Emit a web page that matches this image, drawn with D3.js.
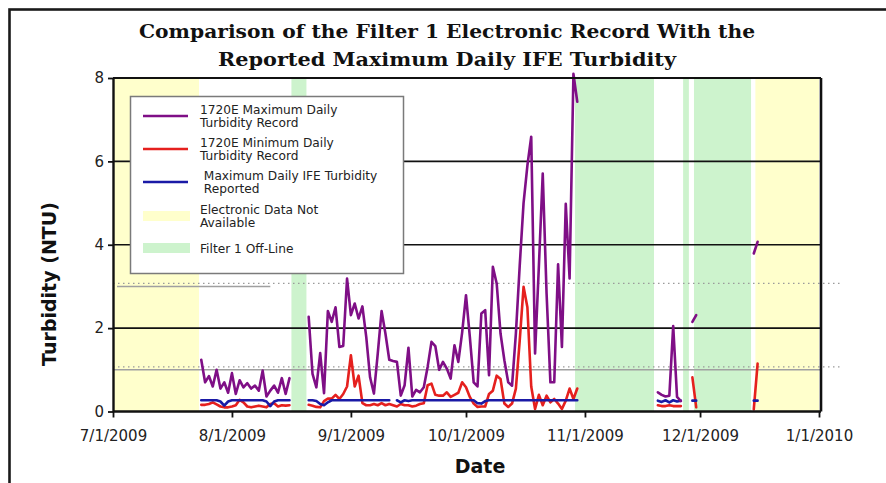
<!DOCTYPE html>
<html><head><meta charset="utf-8">
<script src="https://cdn.jsdelivr.net/npm/d3@7"></script>
<style>body{margin:0;background:#fff;} svg{display:block;}</style>
</head><body>
<svg id="chart" width="886" height="483"></svg>
<script>
// ---------------- DATA ----------------
const titleLines = ["Comparison of the Filter 1 Electronic Record With the",
                    "Reported Maximum Daily IFE Turbidity"];
const yLabel = "Turbidity (NTU)";
const xLabel = "Date";
const yTicks = [0, 2, 4, 6, 8];
const xTickDates = ["2009-07-01","2009-08-01","2009-09-01","2009-10-01","2009-11-01","2009-12-01","2010-01-01"];

// start dates of each block of daily records
const segmentStarts = ["2009-07-24", "2009-08-21", "2009-11-20", "2009-11-29", "2009-12-15"];

// 1720E Maximum Daily Turbidity Record (NTU)
const maxJul = [1.24,0.70,0.85,0.60,1.00,0.55,0.70,0.45,0.92,0.42,0.75,0.58,0.68,0.55,0.62,0.50,0.98,0.36,0.50,0.62,0.45,0.80,0.42,0.80];
const maxAugOct = [2.27,0.90,0.58,1.40,0.44,2.41,2.15,2.50,1.55,1.57,3.19,2.31,2.59,2.23,2.52,1.79,0.82,0.43,1.39,2.41,
  1.87,1.24,1.21,1.19,0.38,0.63,1.53,0.36,0.52,0.46,0.58,1.07,1.67,1.57,1.00,1.19,1.03,0.79,1.59,1.19,
  1.90,2.79,1.79,0.70,0.60,2.35,2.43,0.87,3.47,3.07,1.87,1.23,0.70,0.62,1.87,3.50,5.00,5.90,6.59,1.39,
  3.50,5.71,2.83,0.70,0.70,3.53,1.55,4.98,3.19,8.10,7.43];
const maxNov = [0.46,0.40,0.36,0.38,2.05,0.35,0.25];
const maxLateNov = [2.15,2.31];
const maxDec = [3.79,4.07];

// 1720E Minimum Daily Turbidity Record (NTU)
const minJul = [0.16,0.16,0.18,0.22,0.17,0.12,0.10,0.10,0.12,0.15,0.28,0.22,0.12,0.10,0.12,0.14,0.12,0.10,0.18,0.20,0.12,0.15,0.14,0.15];
const minAugOct = [0.16,0.14,0.11,0.10,0.25,0.31,0.31,0.40,0.30,0.42,0.60,1.35,0.60,0.86,0.20,0.15,0.15,0.18,0.15,0.20,
  0.15,0.18,0.15,0.12,0.18,0.15,0.15,0.12,0.14,0.18,0.20,0.63,0.67,0.40,0.38,0.38,0.46,0.35,0.40,0.45,
  0.70,0.58,0.35,0.19,0.11,0.12,0.12,0.42,0.50,0.86,0.78,0.19,0.11,0.19,0.55,1.70,2.99,2.50,0.60,0.06,
  0.40,0.15,0.38,0.22,0.30,0.19,0.06,0.26,0.55,0.30,0.55];
const minNov = [0.15,0.13,0.13,0.15,0.13,0.13,0.13];
const minLateNov = [0.82,0.10];
const minDec = [0.05,1.15];

// Maximum Daily IFE Turbidity Reported (NTU)  (null = no report)
const repJul = [0.27,0.27,0.27,0.27,0.27,0.24,0.14,0.24,0.27,0.27,0.27,0.27,0.27,0.27,0.27,0.27,0.27,0.24,0.13,0.24,0.27,0.27,0.27,0.27];
const repAugOct = [0.27,0.27,0.25,0.18,0.15,0.22,0.27,0.27,0.27,0.27,0.27,0.27,0.27,0.27,0.27,0.27,0.27,0.27,0.27,0.27,
  0.27,0.27,null,0.27,0.22,0.27,0.25,0.27,0.27,0.27,0.27,0.27,0.27,0.27,0.27,0.27,0.27,0.27,0.27,0.27,
  0.27,0.27,0.27,0.27,0.20,0.19,0.25,0.27,0.27,0.27,0.27,0.27,0.27,0.27,0.27,0.27,0.27,0.27,0.27,0.27,
  0.27,0.27,0.27,0.27,0.27,0.27,0.27,0.27,0.27,0.27,0.27];
const repNov = [0.26,0.23,0.27,0.22,0.27,0.24,0.26];
const repLateNov = [0.26,0.26];
const repDec = [0.26,0.26];

// shaded periods
const noDataPeriods = [["2009-07-01T00:00","2009-07-23T10:00"], ["2009-12-15T10:00","2010-01-01T00:00"]];
const offLinePeriods = [["2009-08-16T12:00","2009-08-20T10:00"], ["2009-10-29T10:00","2009-11-19T00:00"],
                        ["2009-11-26T14:00","2009-11-28T02:00"], ["2009-11-29T10:00","2009-12-14T07:00"]];
// reference levels (NTU)
const referenceLevels = [1, 3];
const partialRefEnd = "2009-08-11";

const legendItems = [
  {type:"line", key:"max", lines:["1720E Maximum Daily","Turbidity Record"]},
  {type:"line", key:"min", lines:["1720E Minimum Daily","Turbidity Record"]},
  {type:"line", key:"rep", lines:[" Maximum Daily IFE Turbidity"," Reported"]},
  {type:"rect", key:"nodata", lines:["Electronic Data Not","Available"]},
  {type:"rect", key:"offline", lines:["Filter 1 Off-Line"]}
];

// ---------------- STYLE ----------------
const colors = {max:"#7f0f86", min:"#e5201e", rep:"#1a1aa6", nodata:"#ffffcc", offline:"#cdf3cd"};
const font = "'DejaVu Sans', Verdana, sans-serif";

const svg = d3.select("#chart");
const parseDay = d3.timeParse("%Y-%m-%d");
const parseTime = d3.timeParse("%Y-%m-%dT%H:%M");

const x = d3.scaleTime().domain([parseDay("2009-07-01"), parseDay("2010-01-01")]).range([113, 819]);
const y = d3.scaleLinear().domain([0, 8]).range([411.5, 78]);
const xL = x.range()[0], xR = x.range()[1] + 2;

// outer frame
svg.append("rect").attr("x", 9.5).attr("y", 9.5).attr("width", 900).attr("height", 500)
  .attr("fill", "none").attr("stroke", "#1a1a1a").attr("stroke-width", 2.6);

// title
svg.selectAll("text.title").data(titleLines).join("text")
  .attr("class","title")
  .attr("x", 447).attr("y", (d,i) => 38 + i*28)
  .attr("text-anchor","middle")
  .attr("font-family","'DejaVu Serif', Georgia, serif").attr("font-weight","bold")
  .attr("font-size", 18.5)
  .attr("textLength", (d,i) => i === 0 ? 616 : 458)
  .attr("lengthAdjust","spacingAndGlyphs")
  .attr("fill","#111")
  .text(d => d);

// shading
const shade = svg.append("g");
shade.selectAll("rect.nd").data(noDataPeriods).join("rect")
  .attr("x", d => x(parseTime(d[0]))).attr("width", d => Math.min(xR, x(parseTime(d[1]))) - x(parseTime(d[0])))
  .attr("y", y(8)).attr("height", y(0) - y(8)).attr("fill", colors.nodata);
shade.selectAll("rect.ol").data(offLinePeriods).join("rect")
  .attr("x", d => x(parseTime(d[0]))).attr("width", d => x(parseTime(d[1])) - x(parseTime(d[0])))
  .attr("y", y(8)).attr("height", y(0) - y(8)).attr("fill", colors.offline);

// gridlines
svg.append("g").selectAll("line").data(yTicks.filter(v => v > 0 && v < 8)).join("line")
  .attr("x1", xL).attr("x2", xR).attr("y1", d => y(d)).attr("y2", d => y(d))
  .attr("stroke", "#111").attr("stroke-width", 1.6);

// reference lines
const ref = svg.append("g");
ref.selectAll("line.dot").data(referenceLevels).join("line")
  .attr("x1", xL).attr("x2", 843).attr("y1", d => y(d) - 3).attr("y2", d => y(d) - 3)
  .attr("stroke", "#9a9a9a").attr("stroke-width", 1.2).attr("stroke-dasharray", "1.5,3.5");
ref.append("line").attr("x1", xL).attr("x2", xR - 1).attr("y1", y(referenceLevels[0])).attr("y2", y(referenceLevels[0]))
  .attr("stroke", "#a0a0a0").attr("stroke-width", 1.5);
ref.append("line").attr("x1", xL + 4).attr("x2", x(parseDay(partialRefEnd))).attr("y1", y(referenceLevels[1])).attr("y2", y(referenceLevels[1]))
  .attr("stroke", "#a0a0a0").attr("stroke-width", 1.5);

// series
function toPoints(values, startStr) {
  const s = parseDay(startStr);
  return values.map((v, i) => ({date: d3.timeDay.offset(s, i), value: v}));
}
const seriesDefs = [
  {key:"rep", segs:[repJul, repAugOct, repNov, repLateNov, repDec]},
  {key:"min", segs:[minJul, minAugOct, minNov, minLateNov, minDec]},
  {key:"max", segs:[maxJul, maxAugOct, maxNov, maxLateNov, maxDec]}
];
const line = d3.line().defined(d => d.value != null).x(d => x(d.date)).y(d => y(d.value));
const dataG = svg.append("g");
[seriesDefs[1], seriesDefs[0], seriesDefs[2]].forEach(s => {
  s.segs.forEach((vals, i) => {
    dataG.append("path").datum(toPoints(vals, segmentStarts[i]))
      .attr("d", line).attr("fill","none").attr("stroke", colors[s.key])
      .attr("stroke-width", 2.6).attr("stroke-linejoin","round").attr("stroke-linecap","round");
  });
});

// frame top / right
svg.append("line").attr("x1", xL).attr("x2", xR).attr("y1", y(8)).attr("y2", y(8)).attr("stroke","#111").attr("stroke-width", 2.2);
svg.append("line").attr("x1", xR).attr("x2", xR).attr("y1", y(8)).attr("y2", y(0)).attr("stroke","#111").attr("stroke-width", 2.6);

// axes
const yAxis = svg.append("g").attr("transform", `translate(${xL},0)`)
  .call(d3.axisLeft(y).tickValues(yTicks).tickSize(5).tickSizeOuter(0).tickFormat(d3.format("d")));
const xAxis = svg.append("g").attr("transform", `translate(0,${y(0)})`)
  .call(d3.axisBottom(x).tickValues(xTickDates.map(parseDay)).tickSize(6).tickSizeOuter(0)
        .tickFormat(d3.timeFormat("%-m/%-d/%Y")));
[yAxis, xAxis].forEach(a => {
  a.select(".domain").attr("stroke","#111").attr("stroke-width", 2.4);
  a.selectAll(".tick line").attr("stroke","#111").attr("stroke-width", 1.8);
  a.selectAll(".tick text").attr("font-family", font).attr("font-size", 15).attr("fill","#222");
});
yAxis.selectAll(".tick text").attr("x", -9);
xAxis.selectAll(".tick text").attr("y", 19);
xAxis.select(".domain").attr("d", `M${xL},0H${xR}`);

// axis labels
svg.append("text").attr("transform", "translate(56,284) rotate(-90)")
  .attr("text-anchor","middle").attr("font-family", font).attr("font-weight","bold")
  .attr("font-size", 19).attr("fill","#111").text(yLabel);
svg.append("text").attr("x", 480).attr("y", 473)
  .attr("text-anchor","middle").attr("font-family", font).attr("font-weight","bold")
  .attr("font-size", 19).attr("fill","#111").text(xLabel);

// legend
const lg = svg.append("g");
lg.append("rect").attr("x", 130.5).attr("y", 96.5).attr("width", 273).attr("height", 177)
  .attr("fill","#fff").attr("stroke","#7a7a7a").attr("stroke-width", 1.5);
const rowY = [116, 149, 182, 216, 248];
legendItems.forEach((it, i) => {
  const cy = rowY[i];
  if (it.type === "line") {
    lg.append("line").attr("x1", 143).attr("x2", 188).attr("y1", cy).attr("y2", cy)
      .attr("stroke", colors[it.key]).attr("stroke-width", 2.6);
  } else {
    lg.append("rect").attr("x", 143).attr("y", cy - 5).attr("width", 47).attr("height", 10)
      .attr("fill", colors[it.key]);
  }
  const t = lg.append("text").attr("font-family", font).attr("font-size", 12.2).attr("fill","#222")
    .attr("xml:space","preserve");
  const firstBase = it.lines.length === 2 ? cy - 2.5 : cy + 5;
  it.lines.forEach((ln, j) => {
    t.append("tspan").attr("x", 200).attr("y", firstBase + j*13).text(ln);
  });
});
</script>
</body></html>
